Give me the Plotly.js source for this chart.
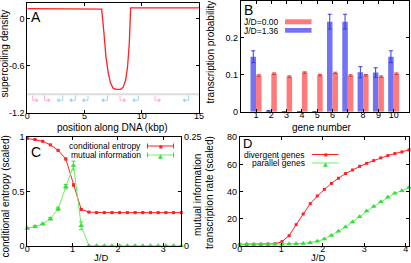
<!DOCTYPE html>
<html><head><meta charset="utf-8">
<script src="https://cdn.plot.ly/plotly-3.0.1.min.js"></script>
<style>html,body{margin:0;padding:0;background:#fff}#c{width:411px;height:263px}</style>
</head><body><div id="c"></div><script>
// ---------- Panel A data ----------
const supX = [0, 6.5, 6.7, 6.87, 7.08, 7.28, 7.51, 7.8, 8.15, 8.38, 8.59, 8.76, 8.91, 9.03, 15];
const supY = [0.125, 0.118, -0.19, -0.485, -0.695, -0.82, -0.885, -0.897, -0.897, -0.87, -0.78, -0.61, -0.316, 0.135, 0.135];
const genePos = [0.45, 1.5, 3.1, 4.2, 5.3, 7.0, 8.1, 9.7, 11.15, 14.1];
const geneDir = [1, 1, -1, -1, -1, -1, 1, -1, 1, -1];
// ---------- Panel B data ----------
const geneNum = [1, 2, 3, 4, 5, 6, 7, 8, 9, 10];
const probJ000 = [0.098, 0.103, 0.095, 0.106, 0.099, 0.105, 0.098, 0.099, 0.095, 0.103];
const errJ000 = [0.002, 0.002, 0.002, 0.002, 0.002, 0.002, 0.002, 0.002, 0.002, 0.002];
const probJ136 = [0.149, 0.002, 0, 0, 0, 0.244, 0.244, 0.107, 0.106, 0.149];
const errJ136 = [0.016, 0.001, 0, 0, 0, 0.02, 0.02, 0.015, 0.013, 0.016];
// ---------- Panel C data ----------
const jC = [0, 0.17, 0.34, 0.51, 0.68, 0.85, 1.02, 1.19, 1.36, 1.53, 1.70, 1.87, 2.04, 2.21, 2.38, 2.55, 2.72, 2.89, 3.06, 3.23, 3.40];
const condEntropy = [0.99, 0.98, 0.963, 0.93, 0.88, 0.80, 0.56, 0.335, 0.31, 0.305, 0.305, 0.305, 0.305, 0.305, 0.305, 0.305, 0.305, 0.305, 0.305, 0.305, 0.305];
const condEntropyErr = [0.004, 0.004, 0.004, 0.005, 0.006, 0.008, 0.01, 0.008, 0.005, 0.004, 0.004, 0.004, 0.004, 0.004, 0.004, 0.004, 0.004, 0.004, 0.004, 0.004, 0.004];
const mutualInfo = [0.04, 0.044, 0.05, 0.062, 0.085, 0.136, 0.185, 0.046, 0, 0, 0, 0, 0, 0, 0, 0, 0, 0, 0, 0, 0];
const mutualInfoErr = [0.002, 0.002, 0.002, 0.003, 0.004, 0.005, 0.01, 0.009, 0, 0, 0, 0, 0, 0, 0, 0, 0, 0, 0, 0, 0];
// ---------- Panel D data ----------
const jD = [0, 0.17, 0.34, 0.51, 0.68, 0.85, 1.02, 1.19, 1.36, 1.53, 1.70, 1.87, 2.04, 2.21, 2.38, 2.55, 2.72, 2.89, 3.06, 3.23, 3.40, 3.57, 3.74, 3.91, 4.08];
const divergent = [1, 1, 1, 1, 1.2, 1.5, 3, 7.4, 15.5, 23.4, 31, 36.7, 41.6, 46, 49.8, 53.2, 55.9, 58.6, 60.8, 62.8, 64.8, 66.5, 68, 69.2, 70.7];
const parallel = [1, 1, 1, 1, 1, 1, 1, 1.2, 1.5, 1.7, 2.2, 3.2, 4.9, 7.6, 10.6, 13.8, 17.5, 21.4, 25.6, 29, 32.5, 35.7, 38.7, 40.6, 42.9];
const legendB = ['J\u0304/D=0.00', 'J\u0304/D=1.36'];

const W = 411, H = 263;
const px = x => x / W, py = y => 1 - y / H;
const FONT = 'Liberation Sans, Arial, sans-serif';
const RED = '#ff2020', GREEN = '#33e033', GREENL = '#66f066';
const PINK = '#ffb3c6', LBLUE = '#9fd3ea';

function ax(extra) {
  return Object.assign({
    showline: true, linecolor: '#000', linewidth: 1, mirror: 'ticks',
    ticks: 'inside', ticklen: 3, tickcolor: '#000', showgrid: false, zeroline: false,
    tickfont: {size: 9, family: FONT, color: '#000'}, fixedrange: true
  }, extra);
}
const xax = extra => ax(Object.assign({ticklabelstandoff: -6}, extra));

// gene arrows (built from genePos / geneDir)
const armLen = 0.38, yTop = -0.975, yBot = -1.035;
const traces = [];
traces.push({x: [0, 15], y: [-0.96, -0.96], xaxis: 'x', yaxis: 'y', mode: 'lines',
  line: {color: '#dcdcdc', width: 2}, hoverinfo: 'skip'});
[1, -1].forEach(d => {
  const gx = [], gy = [], hx = [], hy = [];
  genePos.forEach((p, i) => {
    if (geneDir[i] !== d) return;
    gx.push(p, p, p + d * armLen, null); gy.push(yTop, yBot, yBot, null);
    hx.push(p + d * armLen); hy.push(yBot);
  });
  const col = d > 0 ? PINK : LBLUE;
  traces.push({x: gx, y: gy, xaxis: 'x', yaxis: 'y', mode: 'lines', line: {color: col, width: 1}, hoverinfo: 'skip'});
  traces.push({x: hx, y: hy, xaxis: 'x', yaxis: 'y', mode: 'markers',
    marker: {symbol: d > 0 ? 'triangle-right' : 'triangle-left', size: 4, color: col}, hoverinfo: 'skip'});
});
traces.push({x: supX, y: supY, xaxis: 'x', yaxis: 'y', mode: 'lines', line: {color: RED, width: 1.3}});

// Panel B
traces.push({type: 'bar', x: geneNum, y: probJ136, xaxis: 'x2', yaxis: 'y2', marker: {color: '#7272f2'},
  error_y: {type: 'data', array: errJ136, color: '#3a3ae0', thickness: 1, width: 2}});
traces.push({type: 'bar', x: geneNum, y: probJ000, xaxis: 'x2', yaxis: 'y2', marker: {color: '#ff7a7a'},
  error_y: {type: 'data', array: errJ000, color: '#e03a3a', thickness: 1, width: 2}});

// Panel C
traces.push({x: jC, y: condEntropy, xaxis: 'x3', yaxis: 'y3', mode: 'lines+markers', cliponaxis: false,
  line: {color: RED, width: 1}, marker: {symbol: 'square', size: 3, color: RED},
  error_y: {type: 'data', array: condEntropyErr, color: RED, thickness: 1, width: 1.5}});
traces.push({x: jC, y: mutualInfo, xaxis: 'x3', yaxis: 'y4', mode: 'lines+markers', cliponaxis: false,
  line: {color: GREENL, width: 1}, marker: {symbol: 'triangle-up', size: 5, color: GREEN},
  error_y: {type: 'data', array: mutualInfoErr, color: GREEN, thickness: 1, width: 2}});

// Panel D
traces.push({x: jD, y: divergent, xaxis: 'x4', yaxis: 'y5', mode: 'lines+markers', cliponaxis: false,
  line: {color: RED, width: 1}, marker: {symbol: 'square', size: 3, color: RED}});
traces.push({x: jD, y: parallel, xaxis: 'x4', yaxis: 'y5', mode: 'lines+markers', cliponaxis: false,
  line: {color: GREENL, width: 1}, marker: {symbol: 'triangle-up', size: 5, color: GREEN}});

const txt = (t, x, y, o) => Object.assign({text: t, x: px(x), y: py(y), xref: 'paper', yref: 'paper',
  xanchor: 'center', yanchor: 'middle', showarrow: false,
  font: {size: 10, family: FONT, color: '#000'}}, o || {});
const big = {size: 14, family: FONT, color: '#000'};
const bigD = {size: 13, family: FONT, color: '#000'};
const leg = {size: 8.5, family: FONT, color: '#000'};
const jd = {size: 9.5, family: FONT, color: '#000'};

const annotations = [
  txt('A', 29, 17.5, {xanchor: 'left', font: big}),
  txt('B', 241.5, 10.5, {xanchor: 'left', font: big}),
  txt('C', 29, 152, {xanchor: 'left', font: big}),
  txt('D', 241, 143.5, {xanchor: 'left', font: bigD}),
  txt('supercoiling density', 4.5, 54, {textangle: -90}),
  txt('position along DNA (kbp)', 112, 127.5),
  txt('transcription probability', 209.5, 52, {textangle: -90}),
  txt('gene number', 322, 127.5),
  txt('conditional entropy (scaled)', 4.5, 197, {textangle: -90}),
  txt('mutual information', 197, 195, {textangle: -90}),
  txt('J\u0304/D', 101, 257, {font: jd}),
  txt('transcription rate (scaled)', 210, 193, {textangle: -90}),
  txt('J\u0304/D', 318, 257, {font: jd}),
  txt(legendB[0], 281, 22, {xanchor: 'right', font: leg}),
  txt(legendB[1], 281, 31, {xanchor: 'right', font: leg}),
  txt('conditional entropy', 143, 146, {xanchor: 'right', font: leg}),
  txt('mutual information', 143, 155, {xanchor: 'right', font: leg}),
  txt('divergent genes', 307, 154.5, {xanchor: 'right', font: leg}),
  txt('parallel genes', 307, 163, {xanchor: 'right', font: leg}),
  txt('\u25A0', 160.5, 146, {font: {size: 4, family: 'DejaVu Sans', color: RED}}),
  txt('\u25B2', 160.5, 155, {font: {size: 6, family: 'DejaVu Sans', color: GREEN}}),
  txt('\u25A0', 325.5, 154.5, {font: {size: 4, family: 'DejaVu Sans', color: RED}}),
  txt('\u25B2', 325.5, 163, {font: {size: 6, family: 'DejaVu Sans', color: GREEN}})
];

const ln = (x0, y0, x1, y1, c, w) => ({type: 'line', xref: 'paper', yref: 'paper',
  x0: px(x0), y0: py(y0), x1: px(x1), y1: py(y1), line: {color: c, width: w || 1}});
const shapes = [
  {type: 'rect', xref: 'paper', yref: 'paper', x0: px(285), x1: px(311.5), y0: py(24.3), y1: py(19.3),
    fillcolor: '#ff7a7a', line: {width: 0}},
  {type: 'rect', xref: 'paper', yref: 'paper', x0: px(285), x1: px(311.5), y0: py(32.7), y1: py(28),
    fillcolor: '#7272f2', line: {width: 0}},
  ln(147.5, 146, 173.5, 146, RED), ln(147.5, 143.5, 147.5, 148.5, RED), ln(173.5, 143.5, 173.5, 148.5, RED),
  ln(147.5, 155, 173.5, 155, GREENL), ln(147.5, 152.5, 147.5, 157.5, GREEN), ln(173.5, 152.5, 173.5, 157.5, GREEN),
  ln(312, 154.5, 338.5, 154.5, RED),
  ln(312, 163, 338.5, 163, GREENL)
];

const layout = {
  width: W, height: H, margin: {l: 0, r: 0, t: 0, b: 0}, showlegend: false,
  paper_bgcolor: '#fff', plot_bgcolor: 'rgba(0,0,0,0)',
  barmode: 'group', bargap: 0.28, bargroupgap: 0,
  xaxis: xax({domain: [px(27.3), px(199)], range: [0, 15], tickvals: [0, 5, 10, 15], anchor: 'y'}),
  yaxis: ax({domain: [py(113.3), py(2.7)], range: [-1.2, 0.2], tickvals: [-1.2, -0.6, 0], ticktext: ['-1.2', '-0.6', '0'], anchor: 'x'}),
  xaxis2: xax({domain: [px(240.7), px(409)], range: [0, 11], tickvals: geneNum, anchor: 'y2'}),
  yaxis2: ax({domain: [py(111.7), py(1)], range: [0, 0.3], tickvals: [0, 0.1, 0.2, 0.3], anchor: 'x2'}),
  xaxis3: xax({domain: [px(27.3), px(181.3)], range: [0, 3.4], tickvals: [0, 1, 2, 3], anchor: 'y3'}),
  yaxis3: ax({domain: [py(245.7), py(137.3)], range: [0, 1], tickvals: [0, 0.5, 1], anchor: 'x3'}),
  yaxis4: ax({domain: [py(245.7), py(137.3)], range: [0, 0.25], tickvals: [0, 0.25], overlaying: 'y3', side: 'right', anchor: 'x3', mirror: false}),
  xaxis4: xax({domain: [px(239.7), px(409)], range: [0, 4.08], tickvals: [0, 1, 2, 3, 4], anchor: 'y5'}),
  yaxis5: ax({domain: [py(245.7), py(137.3)], range: [0, 80], tickvals: [0, 20, 40, 60, 80], anchor: 'x4'}),
  annotations: annotations, shapes: shapes
};
Plotly.newPlot('c', traces, layout, {staticPlot: true, displayModeBar: false});
</script></body></html>
